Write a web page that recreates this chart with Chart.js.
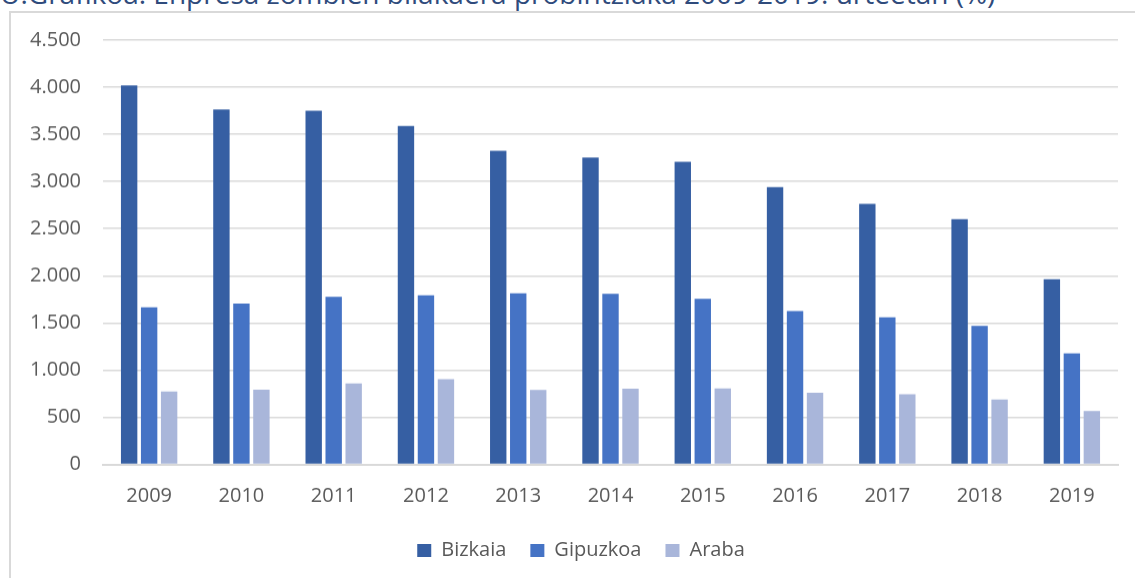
<!DOCTYPE html>
<html>
<head>
<meta charset="utf-8">
<script src="https://cdn.jsdelivr.net/npm/chart.js@4/dist/chart.umd.min.js"></script>
<style>
  html, body { margin: 0; padding: 0; background: #fff; overflow: hidden; }
  body { width: 1135px; height: 578px; position: relative; font-family: "Open Sans", sans-serif; }
  #title {
    position: absolute; left: 0; top: -20px; white-space: nowrap;
    font-size: 28px; line-height: 27px; color: #2f4b7c;
  }
  #frame {
    position: absolute; left: 9px; top: 11px; width: 1140px; height: 580px;
    border-left: 2px solid #d9d9d9; border-top: 2px solid #d9d9d9;
  }
  #wrap { position: absolute; left: 0; top: 0; width: 1135px; height: 578px; }
</style>
</head>
<body>
<div id="title">U.Grafikoa: Enpresa zombien bilakaera probintziaka 2009-2019. urteetan (%)</div>
<div id="frame"></div>
<div id="wrap"><canvas id="zombieChart"></canvas></div>
<script>
// --- Datuak ---
const years = ['2009', '2010', '2011', '2012', '2013', '2014', '2015', '2016', '2017', '2018', '2019'];
const bizkaia = [4020, 3765, 3750, 3590, 3325, 3255, 3210, 2940, 2762, 2600, 1962];
const gipuzkoa = [1665, 1705, 1776, 1794, 1815, 1808, 1757, 1625, 1560, 1470, 1176];
const araba = [773, 791, 858, 904, 790, 801, 804, 759, 745, 688, 566];
const yTicks = [0, 500, 1000, 1500, 2000, 2500, 3000, 3500, 4000, 4500];

const fmt = v => String(v).replace(/\B(?=(\d{3})+(?!\d))/g, '.');

// legenda eskuinera mugitu (koadro osoaren erdian)
const legendShift = {
  id: 'legendShift',
  afterLayout(chart) {
    chart.legend.left += 22;
    chart.legend.right += 22;
    chart.legend.top += 2;
    chart.legend.bottom += 2;
  }
};

const chart = new Chart(document.getElementById('zombieChart'), {
  type: 'bar',
  data: {
    labels: years,
    datasets: [
      { label: 'Bizkaia', data: bizkaia, backgroundColor: '#365fa3' },
      { label: 'Gipuzkoa', data: gipuzkoa, backgroundColor: '#4573c5' },
      { label: 'Araba', data: araba, backgroundColor: '#a9b6da' }
    ]
  },
  options: {
    responsive: false,
    animation: false,
    layout: { padding: { top: 40, left: 0, right: 17, bottom: 0 } },
    datasets: { bar: { categoryPercentage: 0.65, barPercentage: 0.82 } },
    scales: {
      x: {
        grid: { display: false },
        border: { display: true, color: '#d9d9d9', width: 2 },
        ticks: { color: '#595959', font: { family: 'Open Sans', size: 20 }, padding: 12 },
        afterFit: s => { s.height = 50; }
      },
      y: {
        min: 0, max: 4500,
        afterBuildTicks: s => { s.ticks = yTicks.map(v => ({ value: v })); },
        grid: { color: '#d9d9d9', lineWidth: 1.5, drawTicks: false },
        border: { display: false },
        ticks: { color: '#595959', font: { family: 'Open Sans', size: 20 }, padding: 22, callback: v => fmt(v) },
        afterFit: s => { s.width = 103; }
      }
    },
    plugins: {
      legend: {
        position: 'bottom',
        labels: {
          color: '#595959', font: { family: 'Open Sans', size: 20 },
          boxWidth: 14, boxHeight: 13, padding: 24
        }
      },
      tooltip: { enabled: false }
    }
  },
  plugins: [legendShift]
});
chart.resize(1135, 578);
</script>
</body>
</html>
